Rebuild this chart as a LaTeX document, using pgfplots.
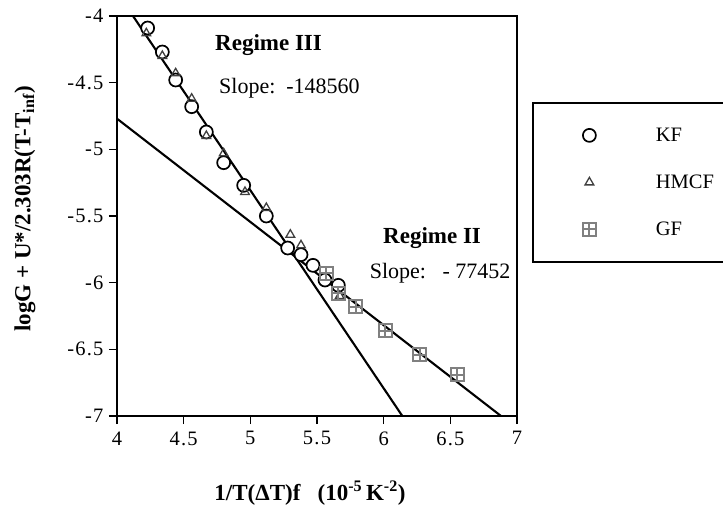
\documentclass[border=0pt]{standalone}
\usepackage{pgfplots}
\pgfplotsset{compat=1.18}
\usepackage{fontspec}
\setmainfont{Liberation Serif}
\newfontfamily\tickfont[LetterSpace=6]{Liberation Serif}
\pgfdeclareplotmark{gfbox}{%
  \pgfpathrectangle{\pgfqpoint{-\pgfplotmarksize}{-\pgfplotmarksize}}{\pgfqpoint{2\pgfplotmarksize}{2\pgfplotmarksize}}%
  \pgfpathmoveto{\pgfqpoint{-\pgfplotmarksize}{0pt}}\pgfpathlineto{\pgfqpoint{\pgfplotmarksize}{0pt}}%
  \pgfpathmoveto{\pgfqpoint{0pt}{-\pgfplotmarksize}}\pgfpathlineto{\pgfqpoint{0pt}{\pgfplotmarksize}}%
  \pgfusepathqstroke}
\begin{document}
\begin{tikzpicture}
\useasboundingbox (-117pt,-93pt) rectangle (606pt,416pt);
\begin{axis}[
  at={(0pt,0pt)}, anchor=south west,
  width=400pt, height=400pt, scale only axis,
  xmin=4, xmax=7, ymin=-7, ymax=-4,
  xtick={4,4.5,5,5.5,6,6.5,7},
  ytick={-7,-6.5,-6,-5.5,-5,-4.5,-4},
  xticklabels={4,4.5,5,5.5,6,6.5,7},
  yticklabels={-7,-6.5,-6,-5.5,-5,-4.5,-4},
  tick align=outside, xtick pos=bottom, ytick pos=left,
  major tick length=8pt,
  axis line style={line width=2pt},
  every tick/.style={line width=1.6pt, black},
  ticklabel style={font=\fontsize{20.5}{24}\tickfont},
  xticklabel style={yshift=-4pt},
  yticklabel style={xshift=-2pt},
  clip=true,
  xlabel={\textbf{1/T(ΔT)f\ \ \ (10\textsuperscript{-5}\,K\textsuperscript{-2})}},
  ylabel={\textbf{logG + U*/2.303R(T-T\textsubscript{inf})}},
  every axis x label/.style={at={(rel axis cs:0.4825,-0.1925)}, anchor=center, font=\fontsize{23}{27}\selectfont},
  every axis y label/.style={at={(rel axis cs:-0.23,0.5175)}, anchor=center, rotate=90, font=\fontsize{23}{27}\selectfont},
  legend image code/.code={\draw[mark repeat=2,mark phase=2,#1] plot coordinates {(0pt,0pt) (17pt,0pt) (34pt,0pt)};},
  legend style={at={(rel axis cs:1.0375,0.785)}, anchor=north west, draw=black, line width=1.8pt,
    inner xsep=50pt, inner ysep=25pt, row sep=32pt, font=\fontsize{20.5}{24}\selectfont,
    nodes={inner sep=0pt, anchor=west}},
  legend cell align=left,
]
\addplot[only marks, mark=*, mark size=6.5pt, mark options={draw=black, fill=white, line width=1.7pt}] coordinates {
(4.23,-4.09) (4.34,-4.27) (4.44,-4.48) (4.56,-4.68) (4.67,-4.87) (4.80,-5.10) (4.95,-5.27) (5.12,-5.50) (5.28,-5.74) (5.38,-5.79) (5.47,-5.87) (5.56,-5.98) (5.66,-6.02)};
\addlegendentry{\rule{0pt}{0pt}\kern60pt KF\kern40pt\rule{0pt}{0pt}}
\addplot[only marks, mark=triangle, mark size=5pt, mark options={draw=black!75, line width=1.3pt}] coordinates {
(4.22,-4.13) (4.34,-4.30) (4.44,-4.43) (4.56,-4.62) (4.67,-4.90) (4.80,-5.03) (4.96,-5.32) (5.12,-5.44) (5.30,-5.64) (5.38,-5.72) (5.67,-6.10)};
\addlegendentry{\rule{0pt}{0pt}\kern60pt HMCF\kern40pt\rule{0pt}{0pt}}
\addplot[only marks, mark=gfbox, mark size=6.5pt, mark options={draw=black!50, line width=2pt}] coordinates {
(5.57,-5.93) (5.66,-6.08) (5.79,-6.18) (6.01,-6.36) (6.27,-6.54) (6.55,-6.69)};
\addlegendentry{\rule{0pt}{0pt}\kern60pt GF\kern40pt\rule{0pt}{0pt}}
\addplot[black, line width=2.1pt, no marks, forget plot] coordinates {(4.12,-4) (6.14,-7)};
\addplot[black, line width=2.1pt, no marks, forget plot] coordinates {(4,-4.77) (6.88,-7)};
\node[anchor=west, font=\fontsize{23}{27}\selectfont\bfseries] at (axis cs:4.71,-4.22) {Regime III};
\node[anchor=west, font=\fontsize{22}{26}\selectfont] at (axis cs:4.74,-4.54) {Slope:\ \ -148560};
\node[anchor=west, font=\fontsize{23}{27}\selectfont\bfseries] at (axis cs:5.97,-5.665) {Regime II};
\node[anchor=west, font=\fontsize{22}{26}\selectfont] at (axis cs:5.87,-5.93) {Slope:\ \ \ -\ 77452};
\end{axis}
\end{tikzpicture}
\end{document}
